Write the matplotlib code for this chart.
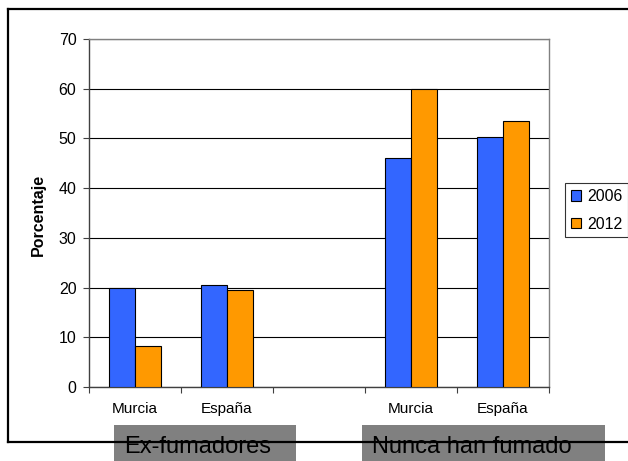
import numpy as np
import matplotlib.pyplot as plt
from matplotlib.patches import Patch, Rectangle
from matplotlib.lines import Line2D

plt.rcParams['font.family'] = ['Liberation Sans', 'DejaVu Sans']

# Data
groups = ['Ex-fumadores', 'Nunca han fumado']
regions = ['Murcia', 'España']
years = ['2006', '2012']
pct_2006 = [19.9, 20.5, 46.1, 50.2]
pct_2012 = [8.3, 19.6, 60.0, 53.5]

colors = ['#3366FF', '#FF9900']
W, H = 628, 461

fig = plt.figure(figsize=(W / 100, H / 100), dpi=100)
ax = fig.add_axes([88.9 / W, 1 - 387 / H, (548.6 - 88.9) / W, 348 / H])

# slot layout: group 0 -> slots 0,1 ; empty slot 2 ; group 1 -> slots 3,4
x = np.array([g * (len(regions) + 1) + r for g in range(len(groups)) for r in range(len(regions))], float)
labels = [r for g in groups for r in regions]
w = 0.283

ax.bar(x - w / 2, pct_2006, w, color=colors[0], edgecolor='black', linewidth=0.8, zorder=3)
ax.bar(x + w / 2, pct_2012, w, color=colors[1], edgecolor='black', linewidth=0.8, zorder=3)

nslots = len(groups) * (len(regions) + 1) - 1
ax.set_xlim(-0.5, nslots - 0.5)
ax.set_ylim(0, 70)
ax.set_yticks(np.arange(0, 71, 10))
ax.yaxis.grid(True, color='black', linewidth=0.8)
ax.set_axisbelow(True)

ax.set_xticks(np.arange(-0.5, nslots, 1.0))
ax.set_xticklabels([])
ax.set_xticks(x, minor=True)
ax.set_xticklabels(labels, minor=True)
ax.tick_params(axis='x', which='major', direction='out', length=4, color='#404040')
ax.tick_params(axis='x', which='minor', length=0, pad=11, labelsize=11)
ax.tick_params(axis='y', direction='out', length=4, color='#404040', pad=5, labelsize=11.5)

for s in ['top', 'right']:
    ax.spines[s].set_color('#808080')
for s in ['left', 'bottom']:
    ax.spines[s].set_color('#404040')
for s in ax.spines.values():
    s.set_linewidth(1.0)

fig.text(38.7 / W, 1 - 215 / H, 'Porcentaje', rotation=90, fontsize=11.5,
         fontweight='bold', ha='center', va='center')

handles = [Patch(facecolor=c, edgecolor='black', linewidth=0.8) for c in colors]
leg = fig.legend(handles, years, loc='upper left', bbox_to_anchor=(565 / W, 1 - 183.3 / H),
                 fontsize=11.4, frameon=True, fancybox=False, handlelength=0.65, handleheight=0.65,
                 handletextpad=0.4, labelspacing=0.8, borderpad=0.35, borderaxespad=0)
leg.get_frame().set_edgecolor('black')
leg.get_frame().set_linewidth(0.8)

# outer frame
lw = 1.6
fig.add_artist(Line2D([8 / W, 1], [1 - 9 / H, 1 - 9 / H], color='black', lw=lw))
fig.add_artist(Line2D([8 / W, 8 / W], [1 - 9 / H, 1 - 442 / H], color='black', lw=lw))
fig.add_artist(Line2D([8 / W, 1], [1 - 442 / H, 1 - 442 / H], color='black', lw=lw))

# group label boxes
boxes = [(114.3, 295.6), (362.4, 604.7)]
for (x0, x1), name in zip(boxes, groups):
    fig.add_artist(Rectangle((x0 / W, 0), (x1 - x0) / W, 1 - 425 / H,
                             transform=fig.transFigure, facecolor='#808080', edgecolor='none'))
    fig.text((x0 + 10) / W, 1 - 452.7 / H, name, fontsize=17, color='black',
             ha='left', va='baseline')

fig.savefig('out.png', dpi=100)
